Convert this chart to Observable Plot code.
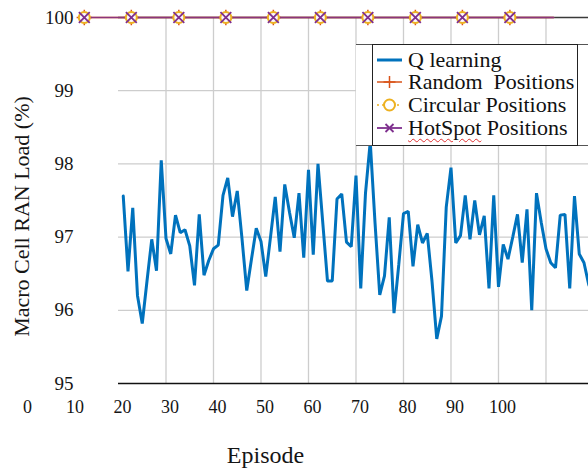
<!DOCTYPE html>
<html><head><meta charset="utf-8">
<script src="https://cdn.jsdelivr.net/npm/d3@7"></script>
<script src="https://cdn.jsdelivr.net/npm/@observablehq/plot@0.6"></script>
<style>
body{margin:0;background:#fff;}
#wrap{position:relative;width:588px;height:470px;overflow:hidden;font-family:'Liberation Serif',serif;}
#wrap svg text{font-family:'Liberation Serif',serif;}
#band{position:absolute;left:356px;top:44px;width:232px;height:102px;background:#fff;border-top:1px solid #555;border-bottom:1px solid #555;box-sizing:border-box;}
#legend{position:absolute;left:372px;top:44px;width:206px;height:102px;border:1px solid #222;box-sizing:border-box;background:#fff;}
.row{position:absolute;left:0;height:22px;width:200px;}
.row svg{position:absolute;left:4px;top:0;}
.row span{position:absolute;left:35px;top:0;line-height:22px;font-size:22px;color:#111;white-space:pre;font-family:'Liberation Serif',serif;}
.spell{text-decoration:underline wavy #e03030;text-decoration-thickness:1px;text-underline-offset:3px;}
</style>
</head><body>
<div id="wrap"></div>
<script>
// ---- data ----
const qEpisodes = [21,22,23,24,25,26,27,28,29,30,31,32,33,34,35,36,37,38,39,40,
  41,42,43,44,45,46,47,48,49,50,51,52,53,54,55,56,57,58,59,60,
  61,62,63,64,65,66,67,68,69,70,71,72,73,74,75,76,77,78,79,80,
  81,82,83,84,85,86,87,88,89,90,91,92,93,94,95,96,97,98,99,100,
  101,102,103,104,105,106,107,108,109,110,111,112,113,114,115,116,117,118,119,120];
const qValues = [
  97.56,96.53,97.40,96.20,95.82,96.40,96.97,96.54,98.05,96.98,
  96.77,97.30,97.06,97.10,96.88,96.34,97.31,96.48,96.68,96.84,
  96.89,97.57,97.81,97.28,97.63,96.98,96.27,96.70,97.12,96.94,
  96.46,97.00,97.55,96.80,97.72,97.34,96.99,97.60,96.72,97.92,
  96.76,98.00,97.20,96.40,96.40,97.52,97.59,96.93,96.87,97.84,
  96.30,97.60,98.30,97.20,96.21,96.47,97.27,95.96,96.62,97.32,
  97.35,96.60,97.17,96.92,97.05,96.40,95.61,95.92,97.41,97.95,
  96.92,97.02,97.57,96.97,97.50,97.03,97.29,96.30,97.57,96.32,
  96.90,96.70,97.00,97.31,96.65,97.38,96.00,97.60,97.20,96.84,
  96.65,96.58,97.30,97.31,96.30,97.56,96.77,96.65,96.35,96.20];

const markerEpisodes = [12.8,22.7,32.7,42.6,52.6,62.5,72.5,82.5,92.4,102.4];
const randomValues   = [100,100,100,100,100,100,100,100,100,100];
const circularValues = [100,100,100,100,100,100,100,100,100,100];
const hotspotValues  = [100,100,100,100,100,100,100,100,100,100];
const constLineEpisodes = [12.8, 111.6];
const constLineValues   = [100, 100];

const xTickLabels = [0,10,20,30,40,50,60,70,80,90,100];
const xGridTicks  = [30,40,50,60,70,80,90,100,110];
const yTickLabels = [95,96,97,98,99,100];
const yGridTicks  = [96,97,98,99];

const seriesNames  = ["Q learning","Random  Positions","Circular Positions","HotSpot Positions"];
const seriesColors = ["#0072BD","#D95319","#EDB120","#7E2F8E"];

// ---- chart ----
const FONT = "'Liberation Serif', serif";
const cQ = seriesColors[0], cR = seriesColors[1], cC = seriesColors[2], cH = seriesColors[3];
const chart = Plot.plot({
  width: 588, height: 470,
  marginLeft: 118, marginRight: 0, marginTop: 17, marginBottom: 87,
  x: {domain: [20, 118.95]},
  y: {domain: [95, 100]},
  style: {fontFamily: FONT, fontSize: "18px", color: "#151515", background: "transparent"},
  marks: [
    Plot.gridX(xGridTicks, {stroke: "#cdcdcd", strokeOpacity: 1, strokeWidth: 1.3}),
    Plot.gridY(yGridTicks, {stroke: "#cdcdcd", strokeOpacity: 1, strokeWidth: 1.3}),
    Plot.ruleY([100], {stroke: "#3a3a3a", strokeWidth: 1.5}),
    Plot.ruleY([95], {stroke: "#111", strokeWidth: 1.6}),
    Plot.axisX(xTickLabels, {tickSize: 0, tickPadding: 17, dx: 4, fontSize: 18, label: null, tickFormat: d => String(d)}),
    Plot.axisY(yTickLabels, {tickSize: 0, tickPadding: 45, fontSize: 19, label: null, tickFormat: d => String(d)}),
    Plot.text(["Macro Cell RAN Load (%)"], {text: d => d, frameAnchor: "left", textAnchor: "middle", lineAnchor: "middle", rotate: -90, dx: -97, dy: 16, fontSize: 22}),
    Plot.text(["Episode"], {text: d => d, frameAnchor: "bottom", textAnchor: "middle", lineAnchor: "middle", dx: -88, dy: 72, fontSize: 24}),
    Plot.line(qValues, {x: (d, i) => qEpisodes[i], y: d => d, stroke: cQ, strokeWidth: 3, strokeLinejoin: "miter"}),
    Plot.line(constLineValues, {x: (d, i) => constLineEpisodes[i], y: d => d, stroke: cR, strokeWidth: 1.5}),
    Plot.dot(randomValues, {x: (d, i) => markerEpisodes[i], y: d => d, symbol: "plus", r: 5, stroke: cR, strokeWidth: 1.5}),
    Plot.line(constLineValues, {x: (d, i) => constLineEpisodes[i], y: d => d, stroke: cH, strokeWidth: 1.6, strokeOpacity: 0.85}),
    Plot.dot(circularValues, {x: (d, i) => markerEpisodes[i], y: d => d, symbol: "circle", r: 5.5, stroke: cC, strokeWidth: 2, fill: "#fbf7fc"}),
    Plot.dot(hotspotValues, {x: (d, i) => markerEpisodes[i], y: d => d, symbol: "times", r: 5, stroke: cH, strokeWidth: 1.8})
  ]
});
const wrap = document.getElementById("wrap");
wrap.appendChild(chart);

// ---- legend (overlay inside chart) ----
const band = document.createElement("div"); band.id = "band"; wrap.appendChild(band);
const legend = document.createElement("div"); legend.id = "legend"; wrap.appendChild(legend);
const rowTops = [4, 26, 49, 72];
const samples = [
  `<line x1="0" y1="11" x2="25" y2="11" stroke="${cQ}" stroke-width="3"/>`,
  `<line x1="0" y1="11" x2="25" y2="11" stroke="${cR}" stroke-width="1.5"/><line x1="12.5" y1="5" x2="12.5" y2="17" stroke="${cR}" stroke-width="1.5"/><line x1="6.5" y1="11" x2="18.5" y2="11" stroke="${cR}" stroke-width="1.5"/>`,
  `<line x1="0" y1="11" x2="25" y2="11" stroke="${cC}" stroke-width="1.5" stroke-dasharray="2,3"/><circle cx="12.5" cy="11" r="5.5" fill="#fff" stroke="${cC}" stroke-width="2"/>`,
  `<line x1="0" y1="11" x2="25" y2="11" stroke="${cH}" stroke-width="1.8"/><line x1="8.5" y1="7" x2="16.5" y2="15" stroke="${cH}" stroke-width="1.8"/><line x1="8.5" y1="15" x2="16.5" y2="7" stroke="${cH}" stroke-width="1.8"/>`
];
seriesNames.forEach((name, i) => {
  const row = document.createElement("div");
  row.className = "row";
  row.style.top = rowTops[i] + "px";
  let label = name;
  if (name.startsWith("HotSpot")) label = `<span class="spell" style="position:static">HotSpot</span> Positions`;
  row.innerHTML = `<svg width="30" height="22">${samples[i]}</svg><span>${label}</span>`;
  legend.appendChild(row);
});
</script>
</body></html>
